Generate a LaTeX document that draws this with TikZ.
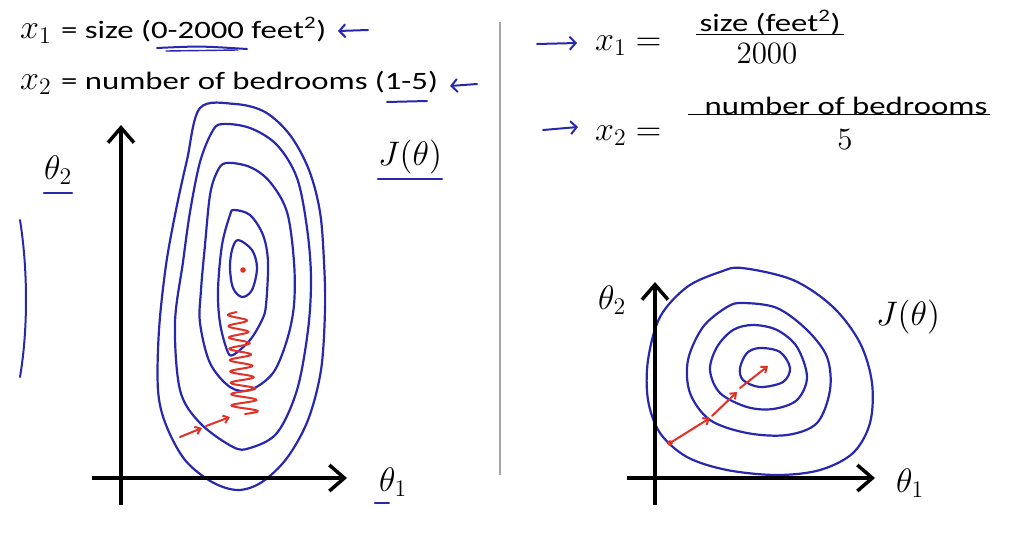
\documentclass[tikz,border=0pt]{standalone}
\usepackage{fontspec}
\usepackage{amsmath}
\usetikzlibrary{arrows.meta}
\DeclareFontShape{OML}{cmm}{m}{it}{<-7.5>cmmi7<7.5-11>cmmi10<11->cmmi12}{}
\DeclareFontShape{OT1}{cmr}{m}{n}{<-7.5>cmr7<7.5-11>cmr10<11->cmr12}{}
\DeclareFontShape{OMS}{cmsy}{m}{n}{<-7.5>cmsy7<7.5->cmsy10}{}
\DeclareFontShape{OMX}{cmex}{m}{n}{<->cmex10}{}
\newfontfamily\slidefont{Carlito}
\definecolor{penblue}{RGB}{40,40,175}
\definecolor{penred}{RGB}{225,50,40}
\definecolor{rulegray}{RGB}{165,165,165}
\newcommand{\wide}[1]{\scalebox{1.31}[1]{\slidefont #1}}

\begin{document}
\begin{tikzpicture}[
  x=1pt, y=-1pt,
  txt/.style={inner sep=0pt, font=\fontsize{25}{28}\selectfont},
  mth/.style={inner sep=0pt, font=\fontsize{34}{37}\selectfont},
  axis/.style={line width=3.5pt, -{Straight Barb[length=15pt, width=26pt]}},
  contour/.style={penblue, line width=2.2pt, smooth cycle, tension=0.55},
  ink/.style={penblue, line width=2pt, line cap=round},
  inkarr/.style={ink, -{Straight Barb[length=6pt, width=13pt]}},
  redink/.style={penred, line width=2pt, line cap=round},
  redarr/.style={redink, -{Straight Barb[length=5pt, width=8pt]}},
  fracbar/.style={line width=1.4pt}
]
  \fill[white] (0,0) rectangle (1024,536);
  \useasboundingbox (0,0) rectangle (1024,536);

  % Feature ranges
  \node[mth, anchor=base west] (x1a) at (20,38) {$x_1$};
  \node[txt, anchor=base west] (x1t) at (61,38) {\wide{= size (0-2000 feet\textsuperscript{2})}};
  \node[mth, anchor=base west] (x2a) at (20,89) {$x_2$};
  \node[txt, anchor=base west] (x2t) at (61,89) {\wide{= number of bedrooms (1-5)}};
  \draw[ink] (157,48) .. controls (200,46) .. (247,49);
  \draw[ink, line width=1.4pt] (166,51) -- (238,50);
  \draw[ink] (387,102) -- (427,101);
  \draw[inkarr] (368,30) -- (338,31);
  \draw[inkarr] (477,84) -- (450,86);

  % Scaled features
  \node[mth, anchor=base west] (x1b) at (595,50) {$x_1 =$};
  \node[txt, anchor=base] (num1) at (770,31) {\wide{size (feet\textsuperscript{2})}};
  \node[mth, anchor=base, font=\fontsize{31}{34}\selectfont] (den1) at (767,63) {$2000$};
  \draw[fracbar] ([xshift=-3pt]num1.south west) -- ([xshift=3pt]num1.south east);
  \node[mth, anchor=base west] (x2b) at (595,140) {$x_2 =$};
  \node[txt, anchor=base] (num2) at (846,114) {\wide{number of bedrooms}};
  \node[mth, anchor=base, font=\fontsize{31}{34}\selectfont] (den2) at (845,149) {$5$};
  \draw[fracbar] ([xshift=-16pt]num2.south west) -- ([xshift=2pt]num2.south east);
  \draw[inkarr] (537,44) -- (577,43);
  \draw[inkarr] (543,130) -- (578,127);

  % Divider
  \draw[rulegray, line width=2pt] (500,22) -- (500,475);

  % Left plot: axes and labels
  \coordinate (ya0) at (121,505);
  \coordinate (ya1) at (121,125);
  \coordinate (xa0) at (92,478);
  \coordinate (xa1) at (347,478);
  \node[mth] (th2a) at (58,170) {$\theta_2$};
  \node[mth] (Ja) at (410,157) {$J(\theta)$};
  \node[mth] (th1a) at (393,482) {$\theta_1$};
  \draw[ink] ([yshift=-8pt]th2a.south west) -- ([yshift=-8pt]th2a.south east);
  \draw[ink] ([yshift=-5pt]Ja.south west) -- ([yshift=-5pt]Ja.south east);
  \draw[ink] ([xshift=-4pt, yshift=-6pt]th1a.south west) -- ([xshift=-4pt, yshift=-6pt]th1a.south);
  \draw[ink] (20,220) .. controls (28,270) and (28,330) .. (20,377);

  % Left plot: elongated contours
  \draw[contour] plot coordinates {(200,108) (235,104) (265,112) (290,135) (309,170) (320,212)
    (324,262) (325,310) (321,370) (308,420) (287,458) (262,482) (238,490) (212,482) (185,460)
    (166,425) (158,390) (159,330) (166,265) (176,210) (187,160)};
  \draw[contour] plot coordinates {(222,124) (250,128) (277,145) (297,178) (307,228) (311,278)
    (308,330) (297,390) (277,433) (250,448) (233,447) (200,423) (180,390) (175,323) (183,262)
    (190,212) (200,162) (212,132)};
  \draw[contour] plot coordinates {(226,163) (250,167) (270,182) (287,212) (294,262) (294,305)
    (287,340) (273,373) (250,390) (230,387) (210,363) (200,323) (201,290) (205,245) (210,195)
    (217,172)};
  \draw[contour] plot coordinates {(234,210) (250,215) (263,235) (268,262) (266,305) (262,320)
    (250,340) (233,355) (227,350) (220,323) (218,290) (222,245) (230,215)};
  \draw[contour] plot coordinates {(238,240) (252,250) (257,268) (252,290) (242,297) (233,288)
    (230,268) (232,250)};
  \draw[axis] (ya0) -- (ya1);
  \draw[axis] (xa0) -- (xa1);

  % Left plot: descent path
  \fill[penred] (243,270) circle (2.8pt);
  \coordinate (pa0) at (180,437);
  \coordinate (pa1) at (202,428);
  \coordinate (pa2) at (206,426);
  \coordinate (pa3) at (230,417);
  \draw[redarr] (pa0) -- (pa1);
  \draw[redarr] (pa2) -- (pa3);
  \draw[redink] plot[domain=0:1, samples=240, smooth]
    ({245-8*\x+(13-4*\x)*sin(3240*\x)}, {414-102*\x});

  % Right plot: axes and labels
  \coordinate (yb0) at (655,505);
  \coordinate (yb1) at (655,282);
  \coordinate (xb0) at (627,478);
  \coordinate (xb1) at (875,478);
  \node[mth] (th2b) at (612,300) {$\theta_2$};
  \node[mth] (Jb) at (908,317) {$J(\theta)$};
  \node[mth] (th1b) at (910,483) {$\theta_1$};

  % Right plot: round contours
  \draw[contour] plot coordinates {(742,268) (793,280) (833,307) (860,343) (872,383) (870,423)
    (853,453) (820,470) (777,475) (727,470) (687,457) (660,433) (648,400) (648,360) (660,317)
    (687,287) (720,272)};
  \draw[contour] plot coordinates {(743,303) (777,308) (807,330) (827,357) (830,390) (817,423)
    (787,435) (747,433) (710,420) (690,393) (688,360) (703,327) (727,307)};
  \draw[contour] plot coordinates {(753,325) (777,330) (797,347) (807,377) (797,400) (773,409)
    (747,407) (720,393) (710,370) (717,347) (733,330)};
  \draw[contour] plot coordinates {(760,348) (780,352) (790,368) (783,382) (760,387) (743,380)
    (740,368) (747,353)};
  \draw[axis] (yb0) -- (yb1);
  \draw[axis] (xb0) -- (xb1);

  % Right plot: descent path
  \fill[penred] (670,443) circle (2.8pt);
  \coordinate (pb0) at (670,443);
  \coordinate (pb1) at (710,418);
  \coordinate (pb2) at (712,416);
  \coordinate (pb3) at (737,392);
  \coordinate (pb4) at (740,388);
  \coordinate (pb5) at (768,366);
  \draw[redarr] (pb0) -- (pb1);
  \draw[redarr] (pb2) -- (pb3);
  \draw[redarr] (pb4) -- (pb5);
\end{tikzpicture}
\end{document}
